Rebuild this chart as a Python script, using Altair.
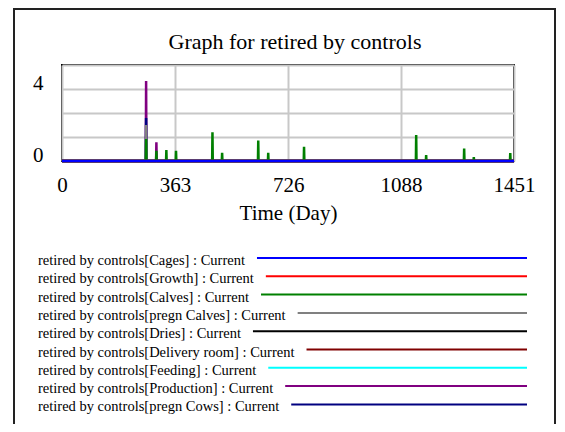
import altair as alt
import pandas as pd

FONT = "Liberation Serif"

# ---------------- data ----------------
chart_title = "Graph for retired by controls"
x_title = "Time (Day)"
x_ticks = [0, 363, 726, 1088, 1451]
y_grid = [0, 4 / 3, 8 / 3, 4, 16 / 3]
y_labels = [0, 4]
t_end = 1451

series_names = ["Cages", "Growth", "Calves", "pregn Calves", "Dries",
                "Delivery room", "Feeding", "Production", "pregn Cows"]
series_colors = ["#0000ff", "#ff0000", "#008000", "#808080", "#000000",
                 "#800000", "#00ffff", "#800080", "#000080"]

# spikes (day, value); all other days are zero
calves_days = [270, 303, 335, 366, 483, 514, 630, 662, 777, 1137, 1169, 1291, 1322, 1439]
calves_values = [1.22, 0.57, 0.61, 0.57, 1.59, 0.46, 1.14, 0.46, 0.79, 1.44, 0.33, 0.69, 0.22, 0.44]
pregn_calves_days = [270]
pregn_calves_values = [2.0]
production_days = [270, 303]
production_values = [4.44, 1.04]
pregn_cows_days = [270]
pregn_cows_values = [2.39]

spikes = {
    "Calves": (calves_days, calves_values),
    "pregn Calves": (pregn_calves_days, pregn_calves_values),
    "Production": (production_days, production_values),
    "pregn Cows": (pregn_cows_days, pregn_cows_values),
}

# bottom -> top drawing order
draw_order = ["Production", "pregn Cows", "Feeding", "Delivery room", "Dries",
              "pregn Calves", "Calves", "Growth", "Cages"]

# ---------------- layout ----------------
W, H = 452, 96
PAD = {"left": 54, "top": 57, "right": 43, "bottom": 263}

x_scale = alt.Scale(domain=[0, t_end], nice=False, zero=False)
y_scale = alt.Scale(domain=[0, 16 / 3], nice=False, zero=True)


def series_frame(name):
    days, vals = spikes.get(name, ([], []))
    rows = [(0, 0.0)]
    for d, v in zip(days, vals):
        rows += [(d - 1, 0.0), (d, v), (d + 1, 0.0)]
    rows.append((t_end, 0.0))
    return pd.DataFrame(rows, columns=["Time", "Value"])


layers = []
first = True
for name in draw_order:
    col = series_colors[series_names.index(name)]
    if first:
        xax = alt.Axis(values=x_ticks, format="d", grid=True, gridColor="#c8c8c8",
                       gridWidth=2, domain=False, ticks=False, tickSize=0,
                       labelFont=FONT, labelFontSize=21, labelColor="black",
                       labelPadding=24, labelBaseline="middle", labelFlush=False,
                       labelOverlap=False, title=x_title, titleFont=FONT,
                       titleFontSize=21, titleFontWeight="normal", titleColor="black",
                       titleY=52, titleX=W / 2, titleBaseline="middle")
        yax = alt.Axis(values=y_grid, grid=True, gridColor="#c8c8c8", gridWidth=2,
                       domain=False, ticks=False, tickSize=0,
                       labelExpr="datum.value == 0 || datum.value == 4 ? datum.label : ''",
                       format="d", labelFont=FONT, labelFontSize=21, labelColor="black",
                       labelPadding=19, labelBaseline="alphabetic", labelOverlap=False,
                       labelFlush=False, title=None)
        first = False
    else:
        xax = None
        yax = None
    layers.append(
        alt.Chart(series_frame(name)).mark_line(
            color=col, strokeWidth=2.5, strokeJoin="bevel"
        ).encode(
            x=alt.X("Time:Q", scale=x_scale, axis=xax),
            y=alt.Y("Value:Q", scale=y_scale, axis=yax),
        )
    )

# ---------------- legend ----------------
tnr = {" ": 250, "a": 444, "b": 500, "c": 444, "d": 500, "e": 444, "f": 333, "g": 500,
       "h": 500, "i": 278, "l": 278, "m": 778, "n": 500, "o": 500, "p": 500, "r": 333,
       "s": 389, "t": 278, "u": 500, "v": 500, "w": 722, "y": 500, "C": 667, "D": 722,
       "F": 556, "G": 722, "P": 556, "[": 333, "]": 333, ":": 278}
LEG_FS = 14.5


def text_width(s):
    return sum(tnr.get(ch, 500) for ch in s) / 1000 * LEG_FS


leg_rows = []
for i, (name, col) in enumerate(zip(series_names, series_colors)):
    label = f"retired by controls[{name}] : Current"
    y_line = 193 + 18.3 * i
    tx = -24
    leg_rows.append({"label": label, "col": col, "tx": tx, "ty": y_line + 3,
                     "lx1": tx + text_width(label) + 12, "lx2": 465, "ly": y_line})
leg_df = pd.DataFrame(leg_rows)

legend_text = alt.Chart(leg_df).mark_text(
    align="left", baseline="middle", font=FONT, fontSize=LEG_FS, color="black"
).encode(
    x=alt.X("tx:Q", scale=None, axis=None),
    y=alt.Y("ty:Q", scale=None, axis=None),
    text="label:N",
)
legend_lines = alt.Chart(leg_df).mark_rule(strokeWidth=2).encode(
    x=alt.X("lx1:Q", scale=None, axis=None),
    x2="lx2:Q",
    y=alt.Y("ly:Q", scale=None, axis=None),
    color=alt.Color("col:N", scale=None, legend=None),
)

title_layer = alt.Chart(pd.DataFrame({"t": [chart_title]})).mark_text(
    font=FONT, fontSize=22, color="black", baseline="middle", align="center"
).encode(text="t:N", x=alt.value(233), y=alt.value(-23))

frame = alt.Chart(pd.DataFrame({"a": [0]})).mark_rect(
    fillOpacity=0, stroke="#222222", strokeWidth=2
).encode(x=alt.value(-48), x2=alt.value(493), y=alt.value(-56), y2=alt.value(380))

chart = alt.layer(frame, *layers, legend_text, legend_lines, title_layer).resolve_scale(
    x="independent", y="independent"
).properties(
    width=W, height=H, padding=PAD,
    autosize=alt.AutoSizeParams(type="none"),
    background="white",
).configure_view(stroke="black", strokeWidth=2)

chart.save("out.html", embed_options={"renderer": "svg", "actions": False})
